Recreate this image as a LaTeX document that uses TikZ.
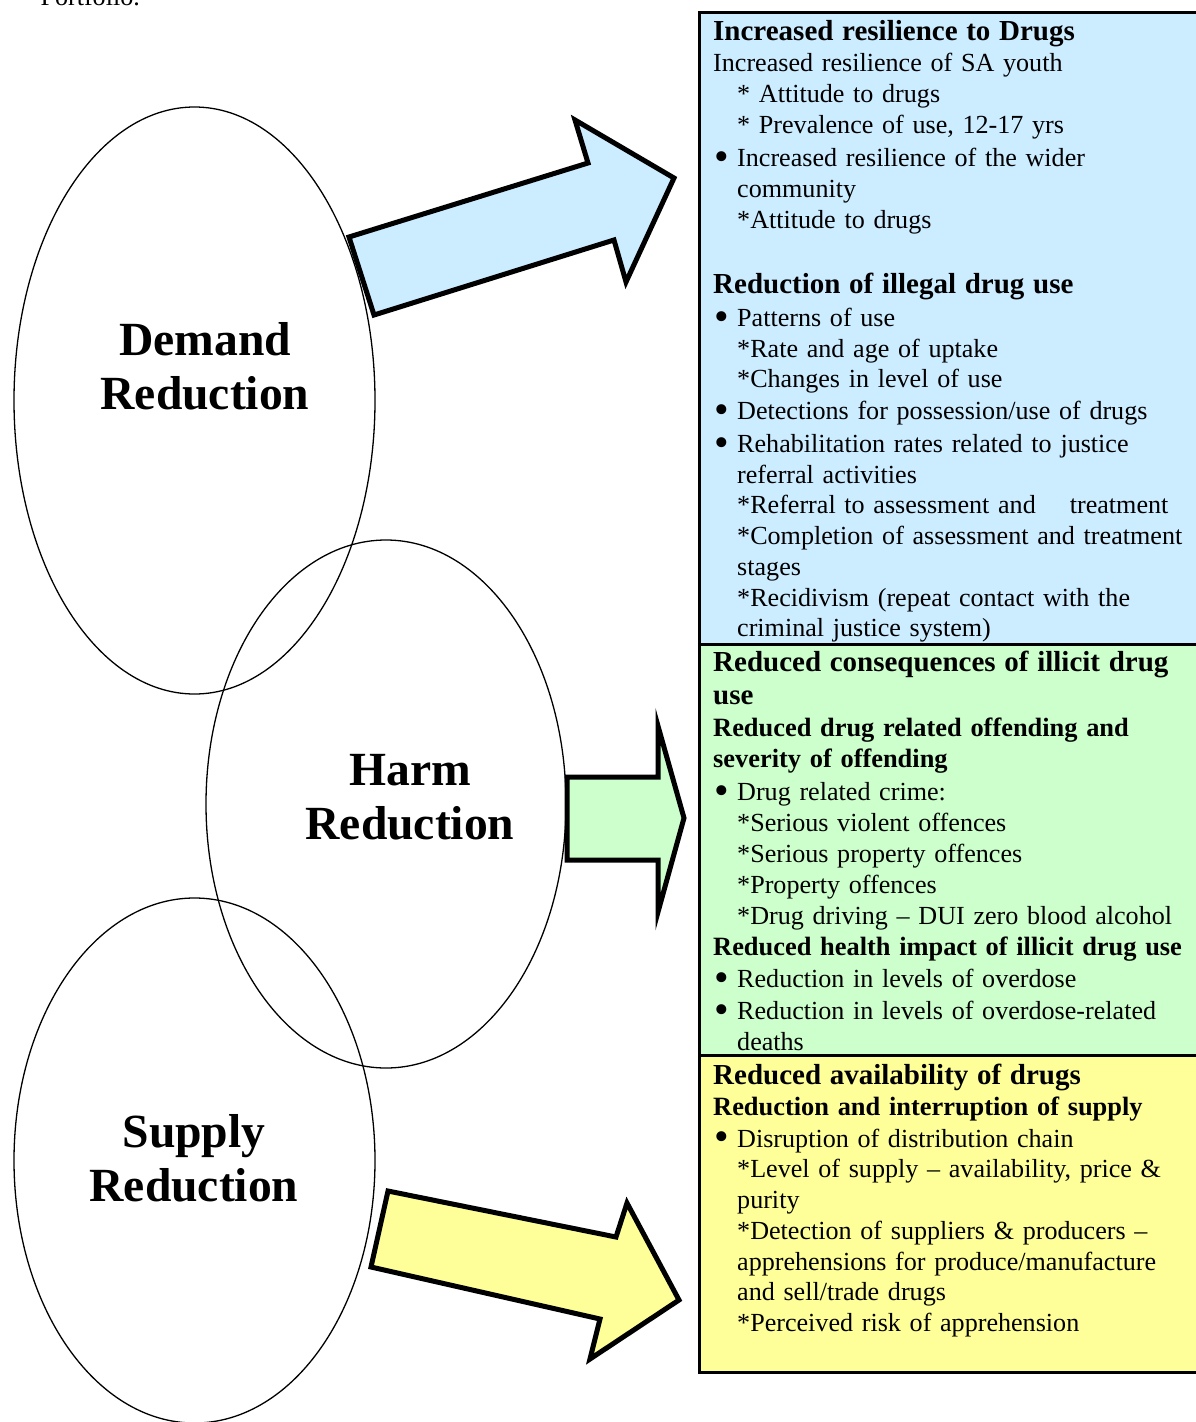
\documentclass[tikz,border=0pt]{standalone}
\usepackage{fontspec}
\setmainfont{Liberation Serif}
\usepackage{tikz}
\usetikzlibrary{shapes.geometric}

\definecolor{demandblue}{HTML}{CCECFF}
\definecolor{harmgreen}{HTML}{CCFFCC}
\definecolor{supplyyellow}{HTML}{FFFF99}

\newcommand{\txtfont}{\fontsize{26.1}{31}\selectfont}
\newcommand{\tighttxtfont}{\fontsize{26.1}{30.75}\selectfont}
\newcommand{\headfont}{\fontsize{29}{33}\selectfont\bfseries}
\newcommand{\subheadfont}{\fontsize{26.4}{31}\selectfont\bfseries}
\newcommand{\bul}{\makebox[24pt][l]{\hspace*{1pt}\raisebox{-3.8pt}{\scalebox{1.6}{\textbullet}}}}
\newcommand{\ind}{\hspace*{24pt}}

\begin{document}
\begin{tikzpicture}[x=1pt, y=-1pt]
        \tikzset{
          circ/.style={draw, ellipse, line width=1.3pt, inner sep=0pt},
          circlabel/.style={font=\fontsize{47.6}{54}\selectfont\bfseries, align=center},
          bigarrow/.style={draw, line width=5pt, line join=miter},
          outcome/.style={anchor=north west, inner sep=0pt, font=\txtfont,
                          text width=480pt, align=left},
        }
        \useasboundingbox (0,0) rectangle (1195,1422);
        \node [anchor=base west, font=\txtfont] (port) at (37,5) {Portfolio.};
        % the three outcome boxes
        \filldraw [fill=demandblue, line width=3pt] (699,12) rectangle (1215,644);
        \filldraw [fill=harmgreen, line width=3pt] (699,644) rectangle (1215,1055);
        \filldraw [fill=supplyyellow, line width=3pt] (699,1055) rectangle (1215,1372);
        % 
        \node (demand) [circ, minimum width=361pt, minimum height=587pt] at (194.5,400.5) {};
        \node (harm) [circ, minimum width=360pt, minimum height=528pt] at (386,804) {};
        \node (supply) [circ, minimum width=361pt, minimum height=525pt] at (194.5,1160.5) {};
        \node (demandlab) [circlabel] at (205,366) {Demand\\Reduction};
        \node (harmlab) [circlabel] at (410,797) {Harm\\Reduction};
        \node (supplylab) [circlabel] at (194,1158) {Supply\\Reduction};
        % 
        \draw [bigarrow, fill=demandblue] (374,315) -- (349,237) -- (588,163) -- (575,120)
              -- (674,178) -- (626,282) -- (614,240) -- cycle;
        \draw [bigarrow, fill=harmgreen] (567,777) -- (658,777) -- (658,726) -- (684,818)
              -- (658,912) -- (658,860) -- (567,860) -- cycle;
        \draw [bigarrow, fill=supplyyellow] (388,1191) -- (371,1267) -- (600,1319) -- (590,1359)
              -- (679,1300) -- (627,1203) -- (616,1237) -- cycle;
        % 
        \node [outcome] (resil) at (713,20) {{\headfont Increased resilience to Drugs}\\
          Increased resilience of SA youth\\
          \ind * Attitude to drugs\\
          \ind * Prevalence of use, 12-17 yrs\\[2pt]
          \bul Increased resilience of the wider\\
          \ind community\\
          \ind *Attitude to drugs};
        \node [outcome, font=\tighttxtfont] (illegal) at (713,273) {{\headfont Reduction of illegal drug use}\\[2pt]
          \bul Patterns of use\\
          \ind *Rate and age of uptake\\
          \ind *Changes in level of use\\[1pt]
          \bul Detections for possession/use of drugs\\[2pt]
          \bul Rehabilitation rates related to justice\\
          \ind referral activities\\
          \ind *Referral to assessment and\hspace{34pt}treatment\\
          \ind *Completion of assessment and treatment\\
          \ind stages\\
          \ind *Recidivism (repeat contact with the\\
          \ind criminal justice system)};
        \node [outcome] (conseq) at (713,651) {{\headfont Reduced consequences of illicit drug}\\[2pt]
          {\headfont use}\\[1pt]
          {\subheadfont Reduced drug related offending and}\\
          {\subheadfont severity of offending}\\[2pt]
          \bul Drug related crime:\\
          \ind *Serious violent offences\\
          \ind *Serious property offences\\
          \ind *Property offences\\
          \ind *Drug driving -- DUI zero blood alcohol\\
          {\subheadfont Reduced health impact of illicit drug use}\\[1pt]
          \bul Reduction in levels of overdose\\[1pt]
          \bul Reduction in levels of overdose-related\\
          \ind deaths};
        \node [outcome, font=\tighttxtfont] (avail) at (713,1064) {{\headfont Reduced availability of drugs}\\
          {\subheadfont Reduction and interruption of supply}\\[1pt]
          \bul Disruption of distribution chain\\
          \ind *Level of supply -- availability, price \&\\
          \ind purity\\
          \ind *Detection of suppliers \& producers --\\
          \ind apprehensions for produce/manufacture\\
          \ind and sell/trade drugs\\
          \ind *Perceived risk of apprehension};
\end{tikzpicture}
\end{document}
